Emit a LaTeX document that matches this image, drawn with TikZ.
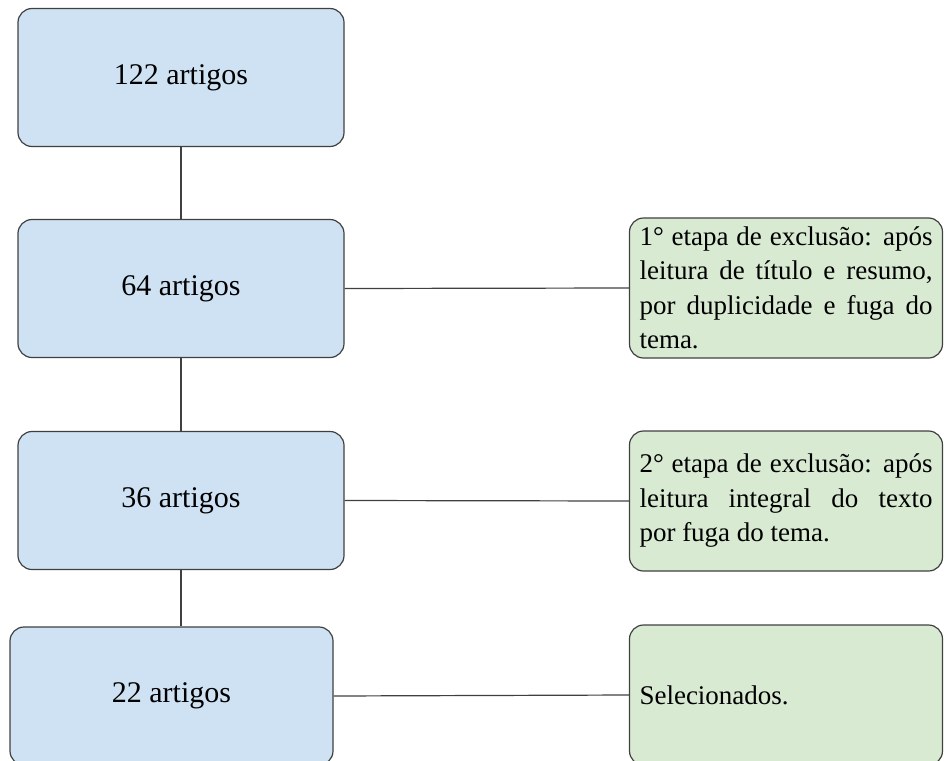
\documentclass[tikz,border=0pt]{standalone}
\usepackage{fontspec}
\setmainfont{Liberation Serif}
\tikzset{
  etapa/.style={draw=black!75, line width=1.2pt, fill=azulclaro, rounded corners=14pt,
    minimum width=326pt, minimum height=138pt, font=\fontsize{30}{36}\selectfont},
  nota/.style={draw=black!75, line width=1.2pt, fill=verdeclaro, rounded corners=14pt,
    minimum width=313pt, minimum height=140pt, inner xsep=10pt, text width=293pt,
    font=\fontsize{27}{34.5}\selectfont},
  liga/.style={draw=black!75, line width=1.2pt}
}
\definecolor{azulclaro}{HTML}{CFE2F3}
\definecolor{verdeclaro}{HTML}{D9EAD3}
\begin{document}
\begin{tikzpicture}[x=1pt,y=-1pt, line join=round]
	\useasboundingbox (0,0) rectangle (944,760);
	\clip (0,0) rectangle (944,760);
	% etapas
	\node[etapa] (a122) at (181,77.5) {122 artigos};
	\node[etapa] (a64) at (181,288.5) {64 artigos};
	\node[etapa] (a36) at (181,500.5) {36 artigos};
	\node[etapa, minimum width=323pt] (a22) at (171.5,696) {22 artigos};
	% notas
	\node[nota, align=justify] (exc1) at (786,288) {1° etapa de exclusão: após\linebreak leitura de título e resumo,\linebreak por duplicidade e fuga do\linebreak tema.};
	\node[nota, align=justify] (exc2) at (786,501) {2° etapa de exclusão: após\linebreak leitura integral do texto\linebreak por fuga do tema.};
	\node[nota, align=left] (sel) at (786,695) {Selecionados.};
	% ligacoes
	\draw[liga] (a122.south)--(a64.north) (a64.south)--(a36.north) (a36.south)--(a36.south|-a22.north);
	\foreach \e/\d in {a64/exc1,a36/exc2,a22/sel}
	\draw[liga] (\e.east)--(\d.west);
\end{tikzpicture}
\end{document}
